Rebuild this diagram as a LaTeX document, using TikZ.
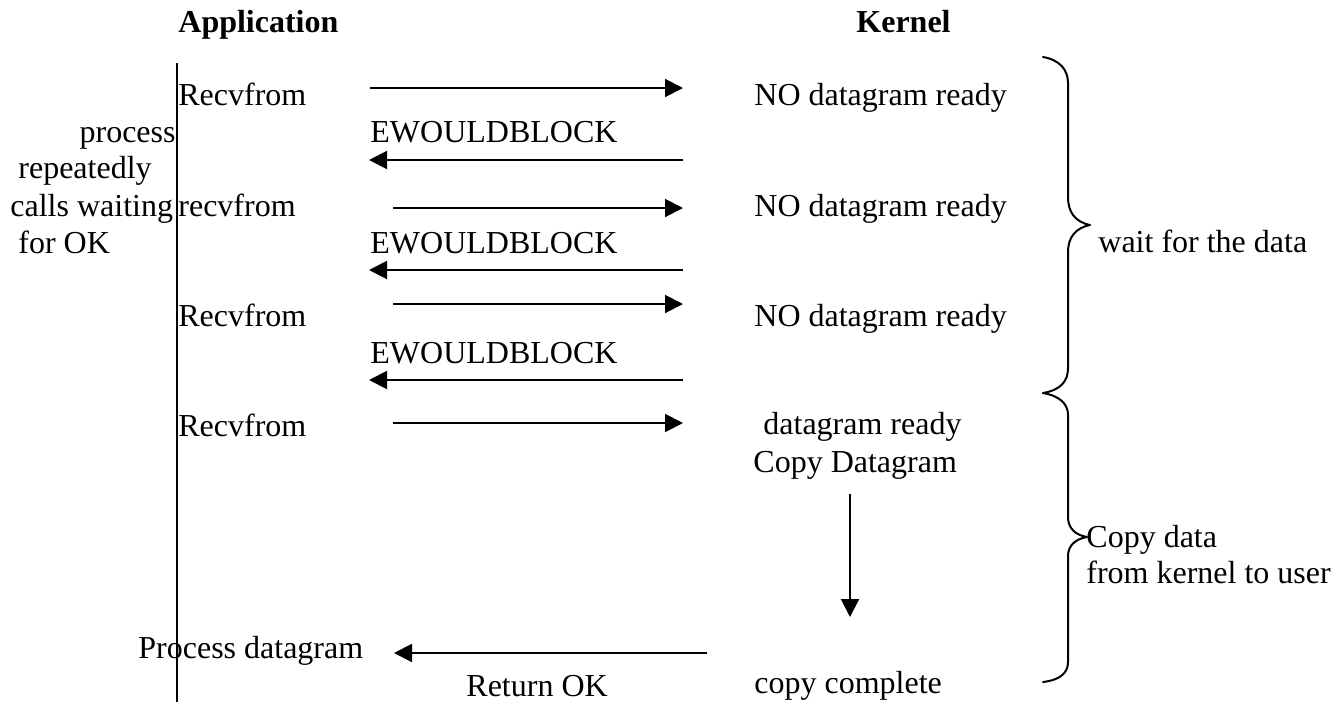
\documentclass[tikz,border=0pt]{standalone}
\usepackage{fontspec}
\setmainfont{Liberation Serif}
\usetikzlibrary{arrows.meta}
\begin{document}
\begin{tikzpicture}[x=0.5pt,y=-0.5pt,
  txt/.style={inner sep=0pt,anchor=base west,font=\fontsize{16}{19}\selectfont},
  head/.style={txt,font=\fontsize{16}{19}\selectfont\bfseries},
  msg/.style={line width=1pt,-{Triangle[length=9pt,width=9pt]}},
  brace/.style={line width=1pt,line cap=round,line join=round}]
\useasboundingbox (0,0) rectangle (1343,702);

% column headings
\node[head] (app) at (178,32) {Application};
\node[head] (ker) at (856,32) {Kernel};

% application lifeline
\coordinate (lt) at (177,63);
\coordinate (lb) at (177,702);
\draw[line width=1pt] (lt) -- (lb);

% description beside the lifeline
\node[txt,anchor=base east] (d1) at (176,142) {process};
\node[txt] (d2) at (18,178) {repeatedly};
\node[txt] (d3) at (10,216) {calls waiting};
\node[txt] (d4) at (18,253) {for OK};

% polling rounds
\node[txt] (r1) at (178,105) {Recvfrom};
\node[txt] (k1) at (754,105) {NO datagram ready};
\node[txt] (e1) at (370,142) {EWOULDBLOCK};
\node[txt] (r2) at (178,216) {recvfrom};
\node[txt] (k2) at (754,216) {NO datagram ready};
\node[txt] (e2) at (370,253) {EWOULDBLOCK};
\node[txt] (r3) at (178,326) {Recvfrom};
\node[txt] (k3) at (754,326) {NO datagram ready};
\node[txt] (e3) at (370,363) {EWOULDBLOCK};
\node[txt] (r4) at (178,436) {Recvfrom};
\node[txt] (k4) at (763,434) {datagram ready};
\node[txt] (k5) at (753,472) {Copy Datagram};
\node[txt] (k6) at (754,693) {copy complete};
\node[txt] (pd) at (138,658) {Process datagram};
\node[txt] (ok) at (466,696) {Return OK};

% message end points
\coordinate (a1s) at (370,88);  \coordinate (a1e) at (683,88);
\coordinate (b1s) at (683,160); \coordinate (b1e) at (369,160);
\coordinate (a2s) at (393,208); \coordinate (a2e) at (683,208);
\coordinate (b2s) at (683,270); \coordinate (b2e) at (369,270);
\coordinate (a3s) at (393,304); \coordinate (a3e) at (683,304);
\coordinate (b3s) at (683,380); \coordinate (b3e) at (369,380);
\coordinate (a4s) at (393,423); \coordinate (a4e) at (683,423);
\coordinate (cs) at (850,494);  \coordinate (ce) at (850,617);
\coordinate (rs) at (707,653);  \coordinate (re) at (394,653);

\draw[msg] (a1s) -- (a1e);
\draw[msg] (b1s) -- (b1e);
\draw[msg] (a2s) -- (a2e);
\draw[msg] (b2s) -- (b2e);
\draw[msg] (a3s) -- (a3e);
\draw[msg] (b3s) -- (b3e);
\draw[msg] (a4s) -- (a4e);
\draw[msg] (cs) -- (ce);
\draw[msg] (rs) -- (re);

% phase braces
\draw[brace] (1043,57) .. controls (1060,60) and (1068,70) .. (1068,83)
  -- (1068,197) .. controls (1068,212) and (1075,222) .. (1090,225)
  .. controls (1075,228) and (1068,238) .. (1068,252)
  -- (1068,368) .. controls (1068,382) and (1060,390) .. (1043,393);
\draw[brace] (1043,393) .. controls (1060,396) and (1068,404) .. (1068,415)
  -- (1068,517) .. controls (1068,528) and (1075,535) .. (1087,537)
  .. controls (1075,539) and (1068,546) .. (1068,556)
  -- (1068,662) .. controls (1068,673) and (1060,680) .. (1043,682);

\node[txt] (w) at (1098,252) {wait for the data};
\node[txt] (c1) at (1086,547) {Copy data};
\node[txt] (c2) at (1086,583) {from kernel to user};
\end{tikzpicture}
\end{document}
